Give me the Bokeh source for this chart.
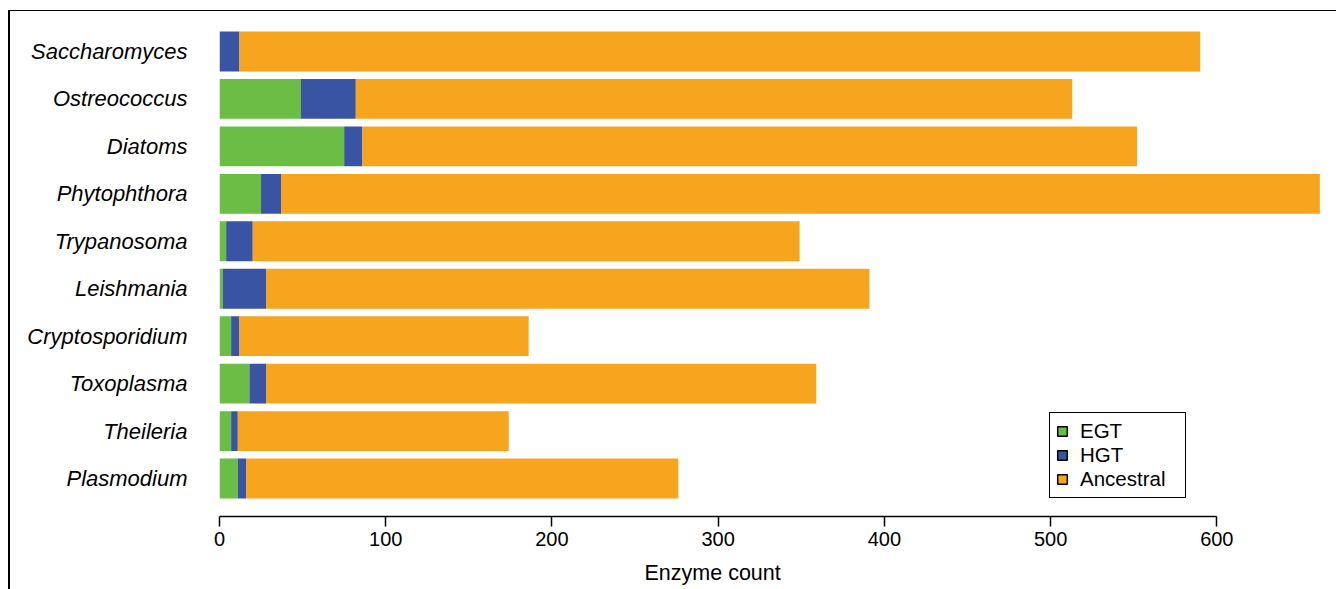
from bokeh.plotting import figure
from bokeh.models import ColumnDataSource, FactorRange, Range1d, FixedTicker, Legend, LegendItem, Title
from bokeh.embed import file_html
from bokeh.resources import INLINE

organisms = ["Saccharomyces", "Ostreococcus", "Diatoms", "Phytophthora", "Trypanosoma",
             "Leishmania", "Cryptosporidium", "Toxoplasma", "Theileria", "Plasmodium"]
egt = [0, 49, 75, 25, 4, 2, 7, 18, 7, 11]
hgt = [12, 33, 11, 12, 16, 26, 5, 10, 4, 5]
ancestral = [578, 431, 466, 625, 329, 363, 174, 331, 163, 260]
categories = ["EGT", "HGT", "Ancestral"]
colors = ["#6BBD45", "#3A54A4", "#F7A51F"]
x_ticks = [0, 100, 200, 300, 400, 500, 600]
x_label = "Enzyme count"

FONT = "Liberation Sans"

source = ColumnDataSource(dict(organism=organisms, EGT=egt, HGT=hgt, Ancestral=ancestral))

p = figure(
    y_range=FactorRange(factors=organisms[::-1], range_padding=0.3, range_padding_units="absolute"),
    x_range=Range1d(0, 672),
    frame_width=1117, frame_height=503,
    min_border_left=209, min_border_top=2, min_border_right=0, min_border_bottom=73,
    output_backend="svg", toolbar_location=None,
)

p.hbar_stack(categories, y="organism", height=0.84, fill_color=colors, line_color=None, source=source)

# legend proxies (NaN extents: nothing drawn in the plot area)
items = []
for cat, col in zip(categories, colors):
    r = p.hbar(y=[organisms[0]], left=[float("nan")], right=[float("nan")], height=0.84,
               fill_color=col, line_color="black", line_width=1.5)
    items.append(LegendItem(label=cat, renderers=[r]))

legend = Legend(items=items, location=(830, 18))
legend.border_line_color = "black"
legend.border_line_width = 1.5
legend.border_line_alpha = 1
legend.background_fill_alpha = 1
legend.padding = 6
legend.margin = 0
legend.spacing = 0
legend.glyph_width = 12
legend.glyph_height = 12
legend.label_standoff = 12
legend.label_width = 99
legend.label_height = 18
legend.label_text_font = FONT
legend.label_text_font_size = "20.5px"
legend.label_text_color = "black"
p.add_layout(legend)

xa = p.xaxis[0]
xa.ticker = FixedTicker(ticks=x_ticks)
xa.bounds = (0, 600)
xa.major_label_text_font = FONT
xa.major_label_text_font_size = "20px"
xa.major_label_text_color = "black"
xa.major_label_standoff = 5
xa.axis_line_color = "black"
xa.axis_line_width = 1.5
xa.major_tick_line_color = "black"
xa.major_tick_line_width = 1.5
xa.major_tick_out = 10
xa.major_tick_in = 0
xa.minor_tick_line_color = None

# axis title, centred under the 0-600 axis line
xt = Title(text=x_label, align="left", offset=425, standoff=20,
           text_font=FONT, text_font_size="21.5px", text_font_style="normal", text_color="black")
p.add_layout(xt, "below")

ya = p.yaxis[0]
ya.axis_line_color = None
ya.major_tick_line_color = None
ya.major_tick_out = 0
ya.major_tick_in = 0
ya.minor_tick_line_color = None
ya.major_label_standoff = 32
ya.major_label_text_font = FONT
ya.major_label_text_font_size = "22px"
ya.major_label_text_font_style = "italic"
ya.major_label_text_color = "black"

p.xgrid.grid_line_color = None
p.ygrid.grid_line_color = None
p.outline_line_color = None
p.background_fill_color = "white"
p.border_fill_color = "white"

p.margin = (10, 0, 0, 8)
p.styles = {"border-top": "1.5px solid black", "border-left": "2px solid black"}

open("out.html", "w").write(file_html(p, INLINE))
